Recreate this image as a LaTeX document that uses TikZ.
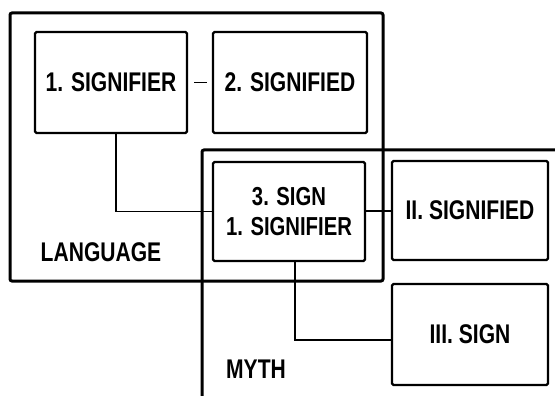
\documentclass[tikz,border=0pt]{standalone}
\usepackage{fontspec}
\setmainfont{Liberation Sans}[FakeStretch=0.78]
\begin{document}
\begin{tikzpicture}[x=1pt,y=-1pt,
  txt/.style={font=\bfseries\fontsize{27}{29}\selectfont, align=center, inner sep=0pt},
  box/.style={draw, line width=2.2pt, rounded corners=1.5pt, inner sep=0pt, align=center,
              font=\bfseries\fontsize{27}{29}\selectfont},
  outer/.style={draw, line width=3pt, rounded corners=2pt, inner sep=0pt},
  link/.style={line width=1.7pt}]
\useasboundingbox (0,0) rectangle (555,396);
\clip (0,0) rectangle (555,396);
% outer frames
\node[outer, minimum width=373pt, minimum height=268pt] (lang) at (196.5,147) {};
\draw[line width=3pt, rounded corners=2pt] (556,150) -- (202,150) -- (202,397);
\coordinate (mythcorner) at (202,150);
% inner boxes
\node[box, minimum width=152pt, minimum height=101pt] (b1) at (111,82.5) {1. SIGNIFIER};
\node[box, minimum width=154pt, minimum height=101pt] (b2) at (290,82.5) {2. SIGNIFIED};
\node[box, minimum width=152pt, minimum height=99pt, font=\bfseries\fontsize{26}{30}\selectfont] (b3) at (289,211.5) {3. SIGN\\1. SIGNIFIER};
\node[box, minimum width=156pt, minimum height=99pt] (b4) at (470,210.5) {II. SIGNIFIED};
\node[box, minimum width=156pt, minimum height=101pt] (b5) at (470,334.5) {III. SIGN};
% labels
\node[txt] (langlabel) at (101,252) {LANGUAGE};
\node[txt] (mythlabel) at (256,369) {MYTH};
% connectors
\draw[link, shorten <=6pt, shorten >=5pt] (b1) -- (b2);
\draw[link] ([xshift=5pt]b1.south) |- (b3.west);
\draw[link] (b3) -- (b4);
\draw[link] ([xshift=6pt]b3.south) |- ([yshift=-5.5pt]b5.west);
\end{tikzpicture}
\end{document}
